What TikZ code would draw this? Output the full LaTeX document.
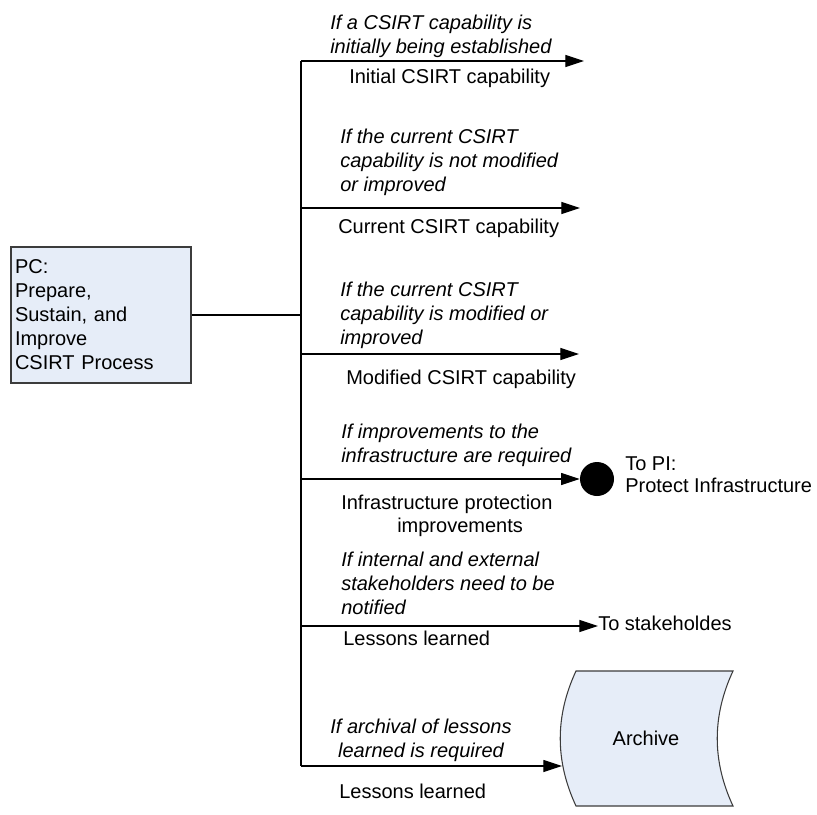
\documentclass[tikz,border=0pt]{standalone}
\usepackage{fontspec}
\setmainfont{Liberation Sans}
\usetikzlibrary{arrows.meta}
\definecolor{boxfill}{RGB}{230,237,248}
\definecolor{edgegray}{RGB}{60,60,60}
\begin{document}
\begin{tikzpicture}[x=0.75pt,y=-0.75pt,
  txt/.style={inner sep=0pt, font=\fontsize{15}{18}\selectfont},
  lbl/.style={txt, anchor=base west},
  cond/.style={txt, font=\fontsize{15}{18}\selectfont\itshape, anchor=north west, align=left},
  wire/.style={line width=0.8pt},
  flow/.style={wire, -{Triangle[length=14pt,width=9pt]}},
  pcbox/.style={draw=edgegray, fill=boxfill, line width=0.8pt, minimum height=102pt,
    text width=129pt, inner xsep=3pt, align=left, font=\fontsize{15}{18}\selectfont},
  archfill/.style={draw=edgegray, fill=boxfill, line width=0.8pt}
]
\useasboundingbox (0,0) rectangle (817,814);

% process box and junction to the spine
\node[pcbox] (pc) at (101,315) {PC:\\Prepare,\\Sustain, and\\Improve\\CSIRT Process};
\coordinate (j) at (301,315);
\draw[wire] (pc.east) -- (j);

% spine with the branch points
\coordinate (s1) at (301,61);
\coordinate (s2) at (301,208);
\coordinate (s3) at (301,354);
\coordinate (s4) at (301,479);
\coordinate (s5) at (301,626);
\coordinate (s6) at (301,766);
\draw[wire] (s1) -- (s6);

% branch 1
\coordinate (e1) at (584,61);
\draw[flow] (s1) -- (e1);
\node[cond] (c1) at (330,14.5) {If a CSIRT capability is\\initially being established};
\node[lbl] (l1) at (349,83) {Initial CSIRT capability};

% branch 2
\coordinate (e2) at (580,208);
\draw[flow] (s2) -- (e2);
\node[cond] (c2) at (340,128.5) {If the current CSIRT\\capability is not modified\\or improved};
\node[lbl] (l2) at (338,233) {Current CSIRT capability};

% branch 3
\coordinate (e3) at (579,354);
\draw[flow] (s3) -- (e3);
\node[cond] (c3) at (340,281.5) {If the current CSIRT\\capability is modified or\\improved};
\node[lbl] (l3) at (346,384) {Modified CSIRT capability};

% branch 4: off-page connector to PI
\node[circle, fill=black, minimum size=25.5pt, inner sep=0pt] (pi) at (597,479) {};
\draw[flow] (s4) -- (pi);
\node[cond] (c4) at (341,423.5) {If improvements to the\\infrastructure are required};
\node[lbl] (l4a) at (341,509) {Infrastructure protection};
\node[lbl] (l4b) at (397,532) {improvements};
\node[txt, anchor=north west, align=left, font=\fontsize{15}{16.5}\selectfont] (topi) at (625,456.5) {To PI:\\Protect Infrastructure};

% branch 5: stakeholders
\node[lbl] (stk) at (598,630) {To stakeholdes};
\draw[flow] (s5) -- (s5 -| stk.west);
\node[cond] (c5) at (341,551.5) {If internal and external\\stakeholders need to be\\notified};
\node[lbl] (l5) at (343,645) {Lessons learned};

% branch 6: archive store
\draw[archfill] (576,671) -- (733,671) .. controls (712,716) and (712,761) .. (733,806)
  -- (576,806) .. controls (555,761) and (555,716) .. (576,671) -- cycle;
\node[txt] (archive) at (646,738) {Archive};
\coordinate (a6) at (562,766);
\draw[flow] (s6) -- (a6);
\node[cond, anchor=north, align=center] (c6) at (421,718.5) {If archival of lessons\\learned is required};
\node[lbl] (l6) at (339,798) {Lessons learned};
\end{tikzpicture}
\end{document}
